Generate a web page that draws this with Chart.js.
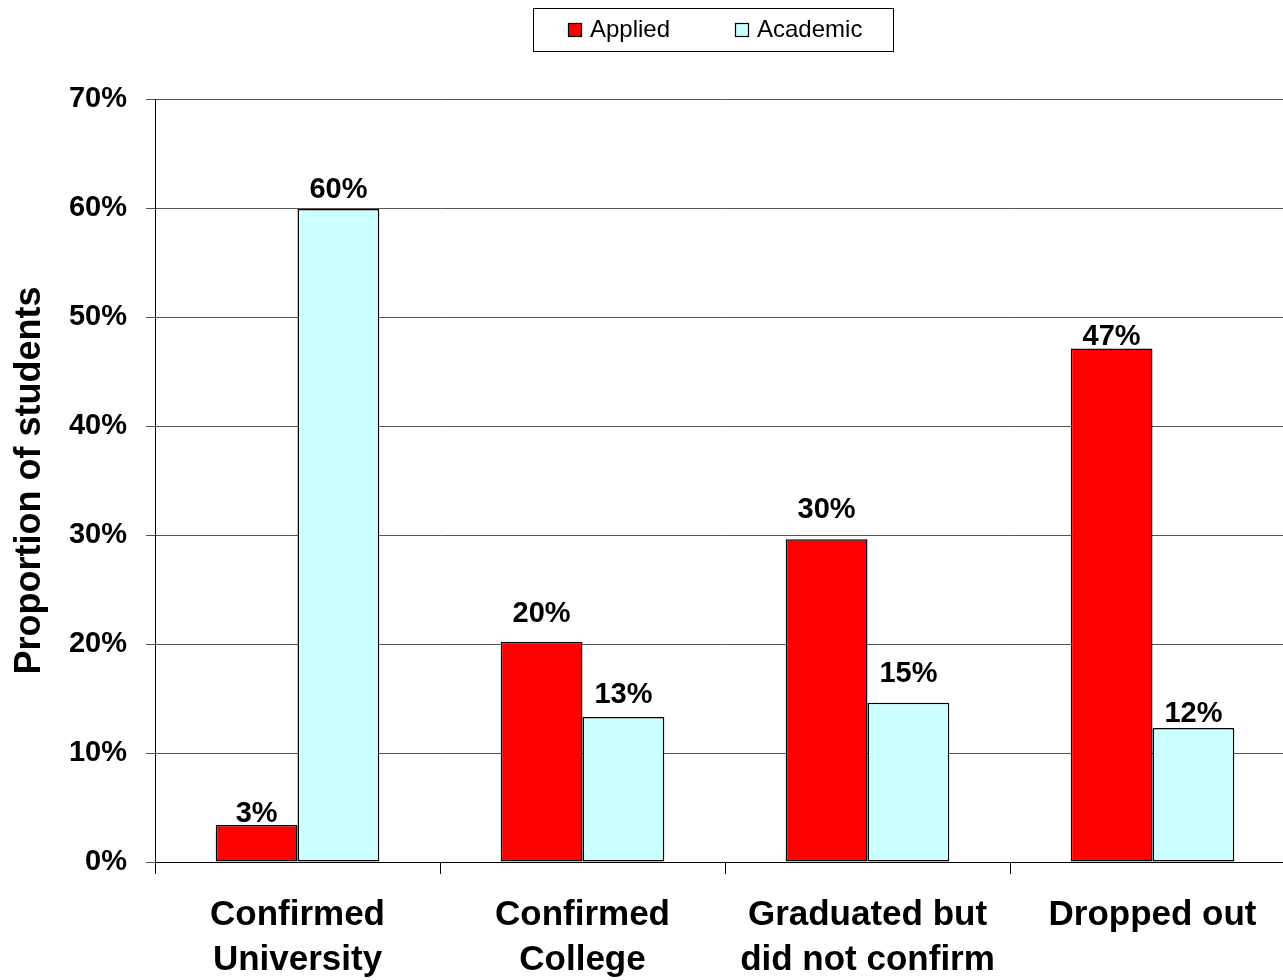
<!DOCTYPE html>
<html><head><meta charset="utf-8">
<script src="https://cdn.jsdelivr.net/npm/chart.js@4.4.1/dist/chart.umd.min.js"></script>
<style>
html,body{margin:0;padding:0;background:#fff;overflow:hidden;}
#wrap{width:1295px;height:980px;position:relative;}
</style></head><body>
<div id="wrap"><canvas id="c"></canvas></div>
<script>
// ---- data ----
const categories = [["Confirmed", "University"], ["Confirmed", "College"], ["Graduated but", "did not confirm"], ["Dropped out"]];
const seriesNames = ["Applied", "Academic"];
const appliedValues = [3.4, 20.2, 29.6, 47.1];
const academicValues = [59.9, 13.3, 14.6, 12.3];
const yTickValues = [0, 10, 20, 30, 40, 50, 60, 70];
const axisTitle = "Proportion of students";

// ---- styling (not data) ----
const FONT = "'Liberation Sans', Arial, sans-serif";
const colors = ["#FF0000", "#CCFFFF"];
const labelLift = [[3, 20, 21, 4], [11, 14, 21, 6]];

const dataLabelPlugin = {
  id: 'dataLabels',
  afterDatasetsDraw(chart) {
    const ctx = chart.ctx;
    ctx.save();
    ctx.font = "bold 29px " + FONT;
    ctx.fillStyle = "#000";
    ctx.textAlign = "center";
    ctx.textBaseline = "alphabetic";
    chart.data.datasets.forEach((ds, di) => {
      const meta = chart.getDatasetMeta(di);
      meta.data.forEach((el, i) => {
        const txt = Math.round(ds.data[i]) + "%";
        ctx.fillText(txt, el.x, el.y - labelLift[di][i]);
      });
    });
    ctx.restore();
  }
};

const legendPlugin = {
  id: 'boxLegend',
  afterDraw(chart) {
    const ctx = chart.ctx;
    ctx.save();
    ctx.font = "24px " + FONT;
    const frameL = 533, frameT = 8, frameR = 893, frameB = 51;
    ctx.fillStyle = "#fff";
    ctx.fillRect(frameL, frameT, frameR - frameL, frameB - frameT);
    ctx.strokeStyle = "#000";
    ctx.lineWidth = 1;
    ctx.strokeRect(frameL + 0.5, frameT + 0.5, frameR - frameL, frameB - frameT);
    const starts = [568, 735];
    chart.data.datasets.forEach((ds, i) => {
      const x = starts[i];
      ctx.fillStyle = ds.backgroundColor;
      ctx.fillRect(x, 23, 13, 13);
      ctx.strokeStyle = "#000";
      ctx.lineWidth = 1.2;
      ctx.strokeRect(x + 0.5, 23.5, 13, 13);
      ctx.fillStyle = "#000";
      ctx.textAlign = "left";
      ctx.textBaseline = "alphabetic";
      ctx.fillText(ds.label, x + 22, 37);
    });
    ctx.restore();
  }
};

new Chart(document.getElementById('c'), {
  type: 'bar',
  data: {
    labels: categories,
    datasets: [
      { label: seriesNames[0], data: appliedValues, backgroundColor: colors[0], borderColor: "#000", borderWidth: 1.5, borderSkipped: false },
      { label: seriesNames[1], data: academicValues, backgroundColor: colors[1], borderColor: "#000", borderWidth: 1.5, borderSkipped: false }
    ]
  },
  options: {
    responsive: true,
    maintainAspectRatio: false,
    animation: false,
    layout: { padding: { top: 99, left: 0, right: 0, bottom: 0 } },
    datasets: { bar: { categoryPercentage: 0.574, barPercentage: 1.0 } },
    plugins: { legend: { display: false }, tooltip: { enabled: false } },
    scales: {
      x: {
        offset: true,
        grid: { offset: true, drawOnChartArea: false, drawTicks: true, tickLength: 12, color: "#000", lineWidth: 1 },
        border: { display: true, color: "#000", width: 1 },
        ticks: { color: "#000", font: { family: FONT, size: 35, weight: 'bold', lineHeight: 1.28 }, padding: 19, maxRotation: 0, autoSkip: false },
        afterFit(scale) { scale.height = 118; }
      },
      y: {
        min: 0, max: 70,
        afterBuildTicks(scale) { scale.ticks = yTickValues.map(v => ({ value: v })); },
        grid: { color: "#555", lineWidth: 1, tickLength: 9, drawTicks: true },
        border: { display: true, color: "#000", width: 1 },
        ticks: { color: "#000", font: { family: FONT, size: 29, weight: 'bold' }, padding: 19, callback: v => v + "%" },
        title: { display: true, text: axisTitle, color: "#000", font: { family: FONT, size: 36, weight: 'bold' }, padding: { top: 8, bottom: 0 } },
        afterFit(scale) { scale.width = 155; }
      }
    }
  },
  plugins: [dataLabelPlugin, legendPlugin]
});
</script>
</body></html>
